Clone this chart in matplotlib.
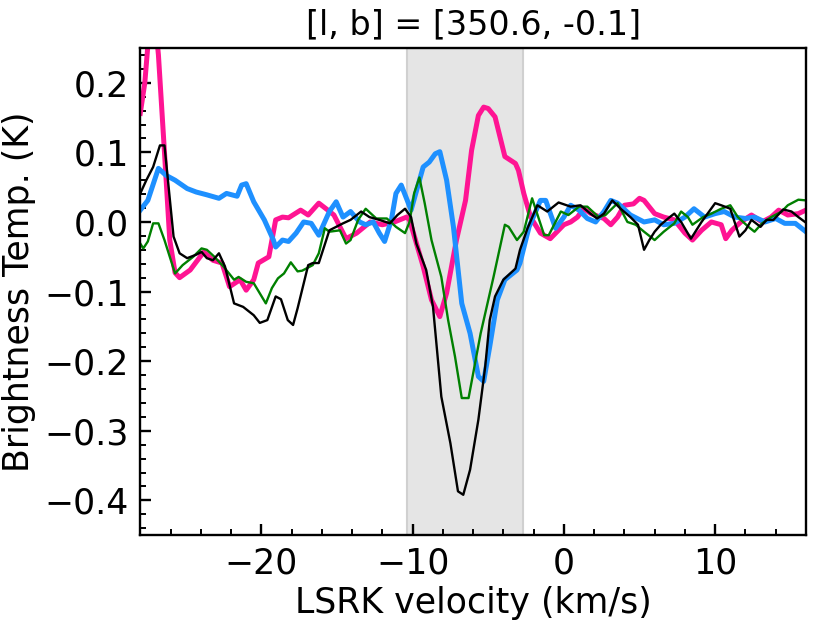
import numpy as np
import matplotlib
matplotlib.use('Agg')
import matplotlib.pyplot as plt
from matplotlib.ticker import MultipleLocator

# spectra, (velocity km/s, brightness K)
v_pink = [-28.0, -27.7, -27.4, -27.1, -26.8, -26.4, -26.05, -25.7, -25.4, -24.7,
          -23.8, -23.2, -22.6, -22.1, -21.4, -21.0, -20.5, -20.2, -19.5, -19.05,
          -18.6, -18.2, -17.4, -16.9, -16.2, -15.6, -15.2, -14.4, -13.7, -12.8,
          -12.0, -11.2, -10.4, -10.2, -9.3, -8.75, -8.2, -7.75, -7.1, -6.5,
          -6.1, -5.65, -5.3, -5.0, -4.55, -3.9, -3.2, -3.0, -2.65, -2.2,
          -1.55, -0.9, -0.45, 0.0, 0.45, 0.9, 1.3, 1.8, 2.65, 3.1,
          3.55, 4.0, 4.6, 5.0, 5.3, 6.0, 6.6, 7.3, 8.0, 8.5,
          9.1, 9.75, 10.4, 10.7, 11.1, 11.7, 12.4, 13.1, 13.7, 14.2,
          14.8, 15.5, 16.0]
t_pink = [0.156, 0.20, 0.28, 0.31, 0.24, 0.10, -0.026, -0.073, -0.08, -0.069,
          -0.043, -0.055, -0.059, -0.093, -0.083, -0.098, -0.083, -0.059, -0.05, 0.003,
          0.007, 0.006, 0.017, 0.01, 0.027, 0.017, 0.01, -0.024, -0.016, 0.0,
          -0.004, 0.0, 0.007, 0.003, -0.064, -0.112, -0.136, -0.102, -0.026, 0.031,
          0.103, 0.153, 0.165, 0.163, 0.151, 0.094, 0.084, 0.074, 0.041, 0.007,
          -0.016, -0.024, -0.014, -0.004, 0.0, 0.007, 0.019, 0.012, 0.005, -0.004,
          0.007, 0.024, 0.026, 0.034, 0.031, 0.012, 0.007, 0.003, -0.016, -0.026,
          -0.012, 0.0, -0.004, -0.024, -0.012, 0.0, 0.01, 0.0, 0.007, 0.017,
          0.01, 0.012, 0.017]

v_blue = [-28.0, -27.5, -26.8, -26.3, -25.7, -24.9, -24.3, -23.6, -22.8, -22.3,
          -21.6, -21.3, -21.0, -20.5, -19.8, -19.2, -19.05, -18.6, -18.2, -17.7,
          -17.2, -16.7, -16.2, -15.5, -15.05, -14.6, -14.1, -13.5, -13.1, -12.6,
          -12.2, -11.85, -11.4, -11.1, -10.75, -10.1, -9.3, -8.9, -8.5, -8.2,
          -7.75, -7.3, -6.75, -6.2, -5.65, -5.3, -4.9, -4.4, -3.9, -3.1,
          -2.9, -2.3, -1.55, -1.2, -0.55, 0.0, 0.45, 1.0, 1.55, 2.1,
          2.65, 3.1, 3.55, 4.4, 5.3, 6.0, 6.6, 7.3, 8.0, 8.6,
          9.3, 10.0, 10.6, 11.3, 12.0, 12.6, 13.3, 14.0, 14.6, 15.3,
          16.0]
t_blue = [0.017, 0.031, 0.077, 0.067, 0.06, 0.048, 0.043, 0.039, 0.034, 0.041,
          0.037, 0.053, 0.055, 0.029, 0.003, -0.026, -0.036, -0.026, -0.028, -0.016,
          0.0, -0.002, -0.019, 0.015, 0.029, 0.007, 0.015, 0.0, -0.004, 0.0,
          -0.016, -0.028, 0.003, 0.041, 0.053, 0.017, 0.079, 0.086, 0.098, 0.101,
          0.06, -0.007, -0.117, -0.16, -0.222, -0.229, -0.179, -0.112, -0.083, -0.069,
          -0.059, -0.007, 0.031, 0.031, -0.009, 0.007, 0.024, 0.017, 0.005, 0.0,
          0.015, 0.031, 0.027, 0.01, 0.0, 0.003, -0.004, -0.002, 0.007, 0.019,
          0.007, 0.012, 0.015, 0.007, 0.005, 0.007, 0.0, 0.005, -0.002, -0.002,
          -0.014]

v_green = [-28.0, -27.8, -27.5, -27.15, -26.8, -26.4, -25.7, -25.2, -24.5, -23.95,
           -23.6, -23.1, -22.5, -21.8, -21.5, -21.0, -20.5, -19.7, -19.3, -18.9,
           -18.5, -18.05, -17.6, -17.3, -16.6, -16.2, -15.8, -15.5, -14.8, -14.4,
           -14.1, -13.6, -13.1, -12.4, -11.7, -11.1, -10.5, -10.2, -9.9, -9.55,
           -9.2, -8.75, -8.1, -7.65, -7.2, -6.75, -6.3, -5.5, -4.65, -3.9,
           -3.65, -3.1, -2.65, -2.1, -1.3, -1.0, -0.2, 0.3, 1.0, 1.55,
           2.3, 2.75, 3.55, 4.2, 4.75, 5.3, 6.0, 6.6, 7.3, 7.75,
           8.2, 8.5, 9.2, 9.75, 10.4, 11.0, 11.5, 12.2, 12.6, 13.1,
           13.7, 14.4, 14.8, 15.5, 16.0]
t_green = [-0.031, -0.038, -0.028, -0.002, -0.002, -0.026, -0.074, -0.062, -0.05, -0.038,
           -0.04, -0.05, -0.064, -0.083, -0.079, -0.086, -0.088, -0.117, -0.095, -0.081,
           -0.074, -0.058, -0.071, -0.07, -0.062, -0.045, -0.009, -0.014, -0.012, -0.031,
           -0.026, 0.003, 0.019, 0.005, 0.005, -0.007, -0.016, 0.0, 0.041, 0.064,
           0.027, -0.026, -0.079, -0.141, -0.193, -0.253, -0.253, -0.16, -0.079, -0.004,
           -0.007, -0.026, -0.014, 0.034, -0.019, -0.019, 0.015, 0.01, 0.022, 0.022,
           0.007, 0.01, 0.027, 0.0, -0.004, -0.014, -0.026, -0.014, -0.002, 0.015,
           0.007, -0.004, 0.007, 0.012, 0.019, 0.024, 0.007, -0.007, -0.014, -0.002,
           0.007, 0.015, 0.024, 0.032, 0.031]

v_black = [-28.0, -27.6, -27.15, -26.7, -26.4, -25.8, -25.4, -24.9, -24.3, -23.95,
           -23.6, -23.2, -22.8, -22.4, -21.8, -21.2, -20.5, -20.1, -19.6, -19.05,
           -18.7, -18.25, -17.9, -17.6, -16.9, -16.6, -16.2, -15.5, -15.05, -14.6,
           -14.1, -13.4, -12.85, -12.2, -11.5, -11.0, -10.5, -10.1, -9.75, -9.1,
           -8.65, -8.1, -7.5, -7.0, -6.65, -6.2, -5.65, -5.2, -4.9, -4.55,
           -4.0, -3.2, -2.9, -2.4, -1.75, -1.1, -0.35, 0.45, 1.1, 1.75,
           2.2, 2.65, 3.2, 3.75, 4.4, 4.9, 5.3, 5.65, 6.0, 6.4,
           7.0, 7.3, 7.75, 8.4, 9.1, 10.0, 10.4, 11.0, 11.6, 12.0,
           12.4, 13.0, 13.4, 13.85, 14.5, 15.05, 15.5, 16.0]
t_black = [0.041, 0.06, 0.079, 0.11, 0.11, -0.021, -0.045, -0.052, -0.047, -0.043,
           -0.052, -0.055, -0.045, -0.064, -0.117, -0.122, -0.134, -0.145, -0.141, -0.107,
           -0.111, -0.141, -0.148, -0.124, -0.062, -0.059, -0.059, -0.012, -0.007, -0.002,
           0.003, 0.015, 0.007, 0.003, -0.002, 0.01, 0.019, 0.007, -0.031, -0.069,
           -0.122, -0.251, -0.318, -0.387, -0.392, -0.356, -0.284, -0.208, -0.141, -0.107,
           -0.083, -0.067, -0.04, -0.009, 0.024, 0.015, 0.028, 0.022, 0.024, 0.012,
           0.005, 0.012, 0.031, 0.019, 0.007, -0.004, -0.04, -0.026, -0.014, -0.004,
           0.007, 0.012, 0.0, -0.024, 0.0, 0.027, 0.024, 0.019, -0.021, -0.012,
           0.003, -0.007, 0.003, 0.003, 0.018, 0.015, 0.007, -0.001]

vel_window = [-10.35, -2.7]

plt.rcParams['font.size'] = 25

fig = plt.figure(figsize=(8.3, 6.23), dpi=100)
ax = fig.add_axes([0.169, 0.141, 0.802, 0.782])

ax.axvspan(vel_window[0], vel_window[1], facecolor='#e5e5e5',
           edgecolor='#d0d0d0', lw=1.5, zorder=0)

ax.plot(v_pink, t_pink, color='#ff1493', lw=3.6)
ax.plot(v_blue, t_blue, color='#1e90ff', lw=3.6)
ax.plot(v_green, t_green, color='green', lw=1.7)
ax.plot(v_black, t_black, color='black', lw=1.7)

ax.set_xlim(-28, 16)
ax.set_ylim(-0.45, 0.25)
ax.xaxis.set_major_locator(MultipleLocator(10))
ax.xaxis.set_minor_locator(MultipleLocator(2))
ax.yaxis.set_major_locator(MultipleLocator(0.1))
ax.yaxis.set_minor_locator(MultipleLocator(0.02))
ax.tick_params(which='both', direction='in', top=False, right=False)
ax.tick_params(which='major', length=8, width=1.7, pad=8)
ax.tick_params(which='minor', length=4, width=1.4)
for s in ax.spines.values():
    s.set_linewidth(1.7)

ax.set_xlabel('LSRK velocity (km/s)', labelpad=4)
ax.set_ylabel('Brightness Temp. (K)', labelpad=6)
ax.set_title('[l, b] = [350.6, -0.1]', fontsize=24, pad=10)

fig.savefig('out.png', dpi=100)
